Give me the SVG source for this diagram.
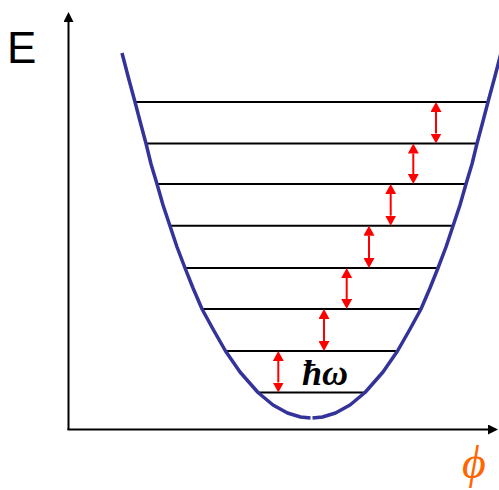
<svg xmlns="http://www.w3.org/2000/svg" width="499" height="490" viewBox="0 0 499 490">
  <style>
    .axis { stroke: #000; stroke-width: 2; fill: none; }
    .level { stroke: #000; stroke-width: 2; }
    .well { stroke: #333399; stroke-width: 3.5; fill: none; stroke-linejoin: round; }
    .gap { stroke: #ff0000; stroke-width: 2; marker-start: url(#rh); marker-end: url(#rh); }
  </style>
  <defs>
    <marker id="ah" markerUnits="userSpaceOnUse" viewBox="0 0 10 10" refX="0" refY="5" markerWidth="10" markerHeight="10" orient="auto">
      <path d="M0,0 L10,5 L0,10 z" fill="#000"/>
    </marker>
    <marker id="rh" markerUnits="userSpaceOnUse" viewBox="0 0 10 11" refX="0" refY="5.5" markerWidth="10" markerHeight="11" orient="auto-start-reverse">
      <path d="M0,0 L10,5.5 L0,11 z" fill="#ff0000"/>
    </marker>
  </defs>
  <rect width="499" height="490" fill="#fff"/>

  <g id="axes">
    <path class="axis" d="M68.5,430 L68.5,22" marker-end="url(#ah)"/>
    <path class="axis" d="M67.5,429.5 L488,429.5" marker-end="url(#ah)"/>
  </g>

  <g id="levels">
    <line class="level" x1="135" y1="102" x2="488" y2="102"/>
    <line class="level" x1="146" y1="143.5" x2="477" y2="143.5"/>
    <line class="level" x1="157" y1="184" x2="466" y2="184"/>
    <line class="level" x1="170" y1="225.7" x2="453" y2="225.7"/>
    <line class="level" x1="185" y1="268" x2="438" y2="268"/>
    <line class="level" x1="202" y1="309" x2="421" y2="309"/>
    <line class="level" x1="225.5" y1="351" x2="397.5" y2="351"/>
    <line class="level" x1="258" y1="392.5" x2="365" y2="392.5"/>
  </g>

  <g id="well">
    <path class="well" d="M122,53 L128.5,78 L135,102 L140.5,123 L146,143.5 L151,164 L157,184 L163,205 L170,226 L177,247 L185,268 L193,288 L202,309 L213.5,330 L225.5,351 L240,372 L258,392.5 L273,405 L287.5,413 L300.5,417 L310.5,418"/>
    <path class="well" d="M312.5,418 L322.5,417 L335.5,413 L350,405 L365,392.5 L383,372 L397.5,351 L409.5,330 L421,309 L430,288 L438,268 L446,247 L453,226 L460,205 L466,184 L472,164 L477,143.5 L482.5,123 L488,102 L494.5,78 L501,53"/>
  </g>

  <g id="arrows">
    <line class="gap" x1="436" y1="112" x2="436" y2="133.5"/>
    <line class="gap" x1="413.3" y1="153.5" x2="413.3" y2="174"/>
    <line class="gap" x1="390.7" y1="194" x2="390.7" y2="215.7"/>
    <line class="gap" x1="369" y1="235.7" x2="369" y2="258"/>
    <line class="gap" x1="346.7" y1="278" x2="346.7" y2="299"/>
    <line class="gap" x1="324" y1="319" x2="324" y2="341"/>
    <line class="gap" x1="278.3" y1="361" x2="278.3" y2="382.5"/>
  </g>

  <g id="labels">
    <text x="7" y="63" font-family="'Liberation Sans', Arial, sans-serif" font-size="44" fill="#000">E</text>
    <text x="302" y="385" font-family="'Liberation Serif', 'Times New Roman', serif" font-size="36" font-weight="bold" font-style="italic" fill="#000">ħω</text>
    <text x="462" y="478" font-family="'Liberation Serif', 'Times New Roman', serif" font-size="46" font-style="italic" fill="#ff6600">ϕ</text>
  </g>
</svg>
